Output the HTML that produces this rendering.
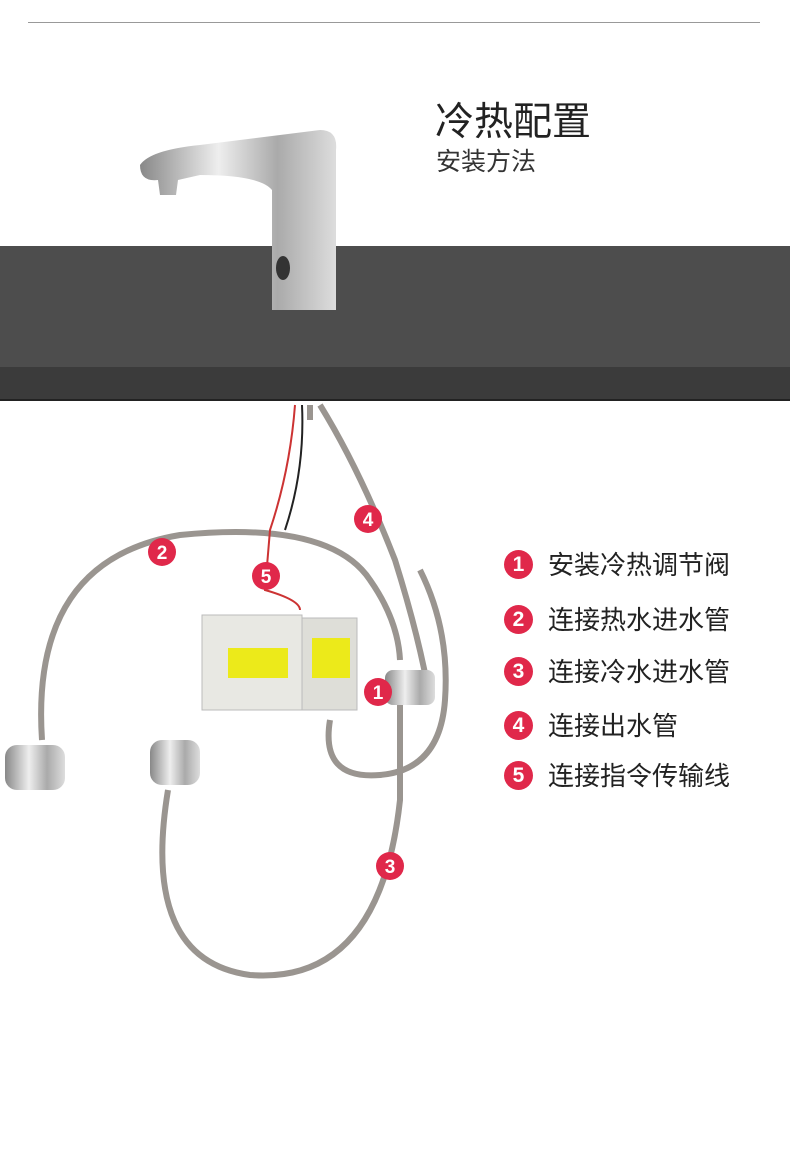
<!DOCTYPE html>
<html><head><meta charset="utf-8"><style>
body{margin:0;width:790px;height:1166px;background:#fff;position:relative;overflow:hidden;font-family:"Liberation Sans","Noto Sans CJK SC",sans-serif;}
.a{position:absolute}
.leg{position:absolute;left:504px;height:30px;font-size:26px;color:#222;line-height:30px}
.leg i{display:inline-block;width:29px;height:29px;border-radius:50%;background:#e0284a;color:#fff;font-style:normal;font-size:21px;text-align:center;line-height:29px;vertical-align:top;margin-right:15px;font-weight:bold}
</style></head><body>
<div class="a" style="left:28px;top:22px;width:732px;height:1px;background:#999"></div>
<div class="a" style="left:435px;top:100px;font-size:39px;color:#222;line-height:46px">冷热配置</div>
<div class="a" style="left:436px;top:147px;font-size:25px;color:#333;line-height:30px">安装方法</div>
<div class="a" style="left:0;top:246px;width:790px;height:121px;background:#4d4d4d"></div>
<div class="a" style="left:0;top:367px;width:790px;height:32px;background:#3b3b3b"></div>
<div class="a" style="left:0;top:399px;width:790px;height:2px;background:#222"></div>
<svg class="a" style="left:0;top:0" width="790" height="1166">
<defs><linearGradient id="c" x1="0" x2="1"><stop offset="0" stop-color="#888"/><stop offset=".4" stop-color="#eee"/><stop offset=".7" stop-color="#aaa"/><stop offset="1" stop-color="#ddd"/></linearGradient></defs>
<path d="M140 165 Q150 150 200 145 L320 130 Q338 130 336 150 L336 310 L272 310 L272 190 Q260 175 200 175 L178 180 L176 195 L160 195 L158 180 Q140 182 140 165Z" fill="url(#c)"/>
<ellipse cx="283" cy="268" rx="7" ry="12" fill="#333"/>
<g fill="none" stroke="#9a9590" stroke-width="6">
<path d="M320 405 Q360 470 395 560 Q420 640 430 700"/>
<path d="M310 405 L310 420"/>
<path d="M42 740 Q30 560 180 535 Q330 520 370 580 Q398 620 400 660"/>
<path d="M168 790 Q140 960 250 975 Q380 985 400 800 L400 700"/>
<path d="M330 720 Q320 780 380 775 Q440 770 445 700 Q450 630 420 570"/>
</g>
<g fill="none" stroke-width="2"><path d="M295 405 Q290 470 270 530 L265 590 Q300 600 300 610" stroke="#c33"/><path d="M302 405 Q305 470 285 530" stroke="#222"/></g>
<rect x="202" y="615" width="100" height="95" fill="#e8e8e3" stroke="#bbb"/>
<rect x="302" y="618" width="55" height="92" fill="#deded8" stroke="#bbb"/>
<rect x="228" y="648" width="60" height="30" fill="#ecea1a"/>
<rect x="312" y="638" width="38" height="40" fill="#ecea1a"/>
<g fill="url(#c)"><rect x="5" y="745" width="60" height="45" rx="12"/><rect x="150" y="740" width="50" height="45" rx="12"/><rect x="385" y="670" width="50" height="35" rx="8"/></g>
<g fill="#e0284a"><circle cx="162" cy="552" r="14"/><circle cx="368" cy="519" r="14"/><circle cx="266" cy="576" r="14"/><circle cx="378" cy="692" r="14"/><circle cx="390" cy="866" r="14"/></g>
<g fill="#fff" font-size="19" font-weight="bold" text-anchor="middle"><text x="162" y="559">2</text><text x="368" y="526">4</text><text x="266" y="583">5</text><text x="378" y="699">1</text><text x="390" y="873">3</text></g>
</svg>
<div class="leg" style="top:550px"><i>1</i>安装冷热调节阀</div>
<div class="leg" style="top:605px"><i>2</i>连接热水进水管</div>
<div class="leg" style="top:657px"><i>3</i>连接冷水进水管</div>
<div class="leg" style="top:711px"><i>4</i>连接出水管</div>
<div class="leg" style="top:761px"><i>5</i>连接指令传输线</div>
</body></html>
